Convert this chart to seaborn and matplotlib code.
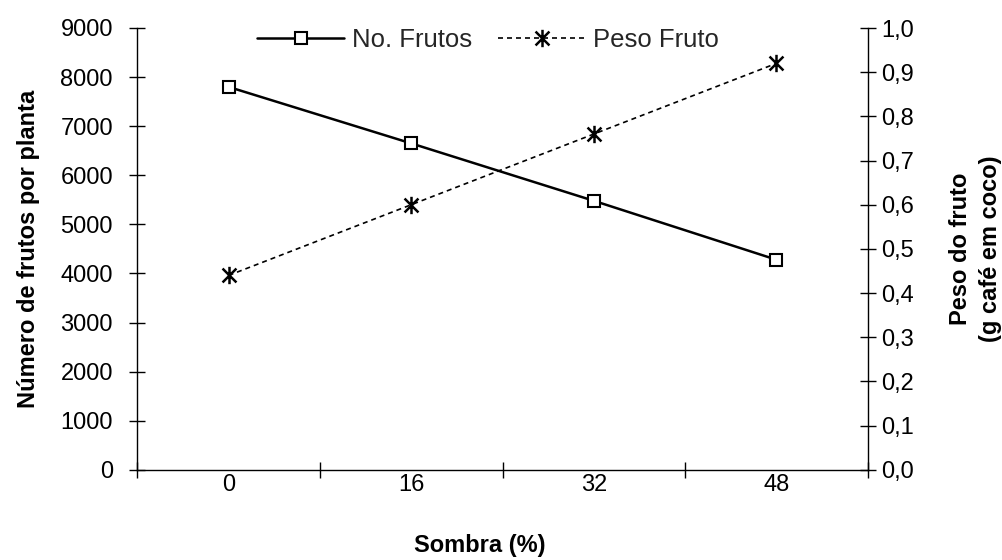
import matplotlib
matplotlib.use("Agg")
import matplotlib.pyplot as plt
import seaborn as sns
import pandas as pd
from matplotlib.path import Path
from matplotlib.ticker import FixedLocator, FuncFormatter, MultipleLocator

# Shade levels and the two measured responses
sombra = ["0", "16", "32", "48"]
n_frutos = [7800, 6650, 5480, 4280]
peso_fruto = [0.44, 0.60, 0.76, 0.92]

sns.set_theme(style="white")
plt.rcParams["font.family"] = ["Liberation Sans", "DejaVu Sans"]

df = pd.DataFrame({
    "pos": range(len(sombra)),
    "frutos": n_frutos,
    "peso": peso_fruto,
})

fig = plt.figure(figsize=(10.02, 5.6), dpi=100)
ax = fig.add_axes([0.137, 0.161, 0.729, 0.789])
ax2 = ax.twinx()

# asterisk marker: vertical bar crossed by an X
star = Path([(0, -1), (0, 1), (-0.8, -0.8), (0.8, 0.8), (-0.8, 0.8), (0.8, -0.8)],
            [Path.MOVETO, Path.LINETO] * 3)

sns.lineplot(data=df, x="pos", y="frutos", ax=ax, color="black", lw=1.8,
             marker="s", markersize=8.5, markerfacecolor="white",
             markeredgecolor="black", markeredgewidth=1.5, legend=False)
sns.lineplot(data=df, x="pos", y="peso", ax=ax2, color="black", lw=1.2,
             linestyle=(0, (3, 2.4)), marker=star, markersize=12.5,
             markeredgecolor="black", markeredgewidth=1.8, legend=False)

fs = 17
lfs = 17
# x axis: categories, ticks between them
ax.set_xlim(-0.5, len(sombra) - 0.5)
ax.xaxis.set_major_locator(FixedLocator(range(len(sombra))))
ax.set_xticklabels(sombra)
ax.xaxis.set_minor_locator(FixedLocator([i - 0.5 for i in range(len(sombra) + 1)]))
ax.tick_params(axis="x", which="major", bottom=True, length=0, pad=3, labelsize=fs, colors="black")
ax.tick_params(axis="x", which="minor", bottom=True, direction="inout", length=11, width=1, color="black")

ax.set_ylim(0, 9000)
ax.yaxis.set_major_locator(MultipleLocator(1000))
ax.tick_params(axis="y", left=True, direction="inout", length=11, width=1,
               color="black", labelsize=fs, labelcolor="black", pad=12)

ax2.set_ylim(0, 1.0)
ax2.yaxis.set_major_locator(MultipleLocator(0.1))
ax2.yaxis.set_major_formatter(FuncFormatter(lambda v, p: f"{v:.1f}".replace(".", ",")))
ax2.tick_params(axis="y", right=True, direction="inout", length=11, width=1,
                color="black", labelsize=fs, labelcolor="black", pad=4)

for a in (ax, ax2):
    a.spines["top"].set_visible(False)
    for s in ("left", "right", "bottom"):
        a.spines[s].set_color("black")
        a.spines[s].set_linewidth(1)
ax.spines["right"].set_visible(False)
ax2.spines["left"].set_visible(False)
ax2.spines["bottom"].set_visible(False)

ax.set_xlabel("Sombra (%)", fontsize=lfs, fontweight="bold", color="black")
ax.xaxis.set_label_coords(0.469, -0.146)
ax.set_ylabel("Número de frutos por planta", fontsize=lfs, fontweight="bold", labelpad=15, color="black")
ax2.set_ylabel("Peso do fruto\n(g café em coco)", fontsize=lfs, fontweight="bold", labelpad=25,
               color="black", linespacing=1.4)

ax2.legend(handles=[ax.lines[0], ax2.lines[0]], labels=["No. Frutos", "Peso Fruto"],
           loc="center", bbox_to_anchor=(488 / 1002, 1 - 40 / 560), bbox_transform=fig.transFigure,
           ncol=2, frameon=False, fontsize=18.5, handlelength=3.4, handletextpad=0.3,
           columnspacing=1.0, numpoints=1)

fig.savefig("out.png", dpi=100)
